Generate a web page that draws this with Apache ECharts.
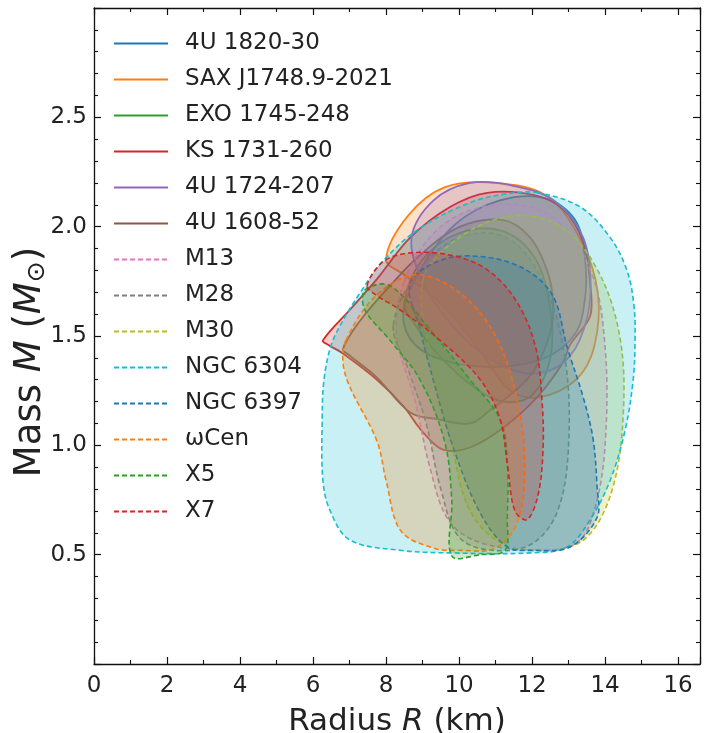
<!DOCTYPE html>
<html><head><meta charset="utf-8">
<script src="https://cdn.jsdelivr.net/npm/echarts@6/dist/echarts.min.js"></script>
<style>html,body{margin:0;padding:0;background:#fff}#c{width:709px;height:733px}</style>
</head><body><div id="c"></div>
<script>
// Legend names, colours, line styles
const names = ['4U 1820-30','SAX J1748.9-2021','EXO 1745-248','KS 1731-260','4U 1724-207','4U 1608-52',
  'M13','M28','M30','NGC 6304','NGC 6397','\u03c9Cen','X5','X7'];
const colors = ['#1f77b4','#ff7f0e','#2ca02c','#d62728','#9467bd','#8c564b',
  '#e377c2','#7f7f7f','#bcbd22','#17becf','#1f77b4','#ff7f0e','#2ca02c','#d62728'];
const dashed = [false,false,false,false,false,false,true,true,true,true,true,true,true,true];

// Contours: [Radius km, Mass Msun]
const c4U1820 = [[8.47,1.60],[8.93,1.80],[9.89,2.01],[11.12,2.12],[12.36,2.13],[13.18,2.03],[13.45,1.85],[13.45,1.67],[13.18,1.51],[12.36,1.40],[11.12,1.36],[9.75,1.38],[8.79,1.46]];
const cSAX = [[8.0,1.85],[8.6,2.05],[9.6,2.18],[11.0,2.20],[12.4,2.14],[13.3,1.95],[13.8,1.70],[13.7,1.45],[13.2,1.30],[12.2,1.22],[11.4,1.25],[10.5,1.45],[9.5,1.65],[8.5,1.78]];
const cEXO = [[8.5,1.65],[9.0,1.85],[10.0,1.97],[11.2,1.98],[12.1,1.85],[12.5,1.62],[12.5,1.40],[12.0,1.23],[11.2,1.20],[10.3,1.28],[9.4,1.42],[8.8,1.55]];
const cKS = [[6.27,1.48],[7.01,1.62],[7.75,1.76],[8.66,1.95],[9.75,2.09],[10.77,2.155],[12.03,2.145],[12.85,2.08],[13.40,1.93],[13.59,1.74],[13.59,1.59],[13.04,1.46],[12.85,1.38],[12.14,1.22],[11.21,1.08],[10.30,0.99],[9.56,0.98],[9.01,1.06],[8.47,1.18],[7.75,1.30],[6.82,1.42],[6.41,1.46]];
const c4U1724 = [[8.7,1.95],[9.3,2.12],[10.3,2.20],[11.4,2.19],[12.6,2.12],[13.4,1.95],[13.6,1.70],[13.3,1.48],[12.7,1.36],[11.8,1.33],[10.8,1.40],[9.8,1.55],[9.0,1.75]];
const c4U1608 = [[6.82,1.44],[7.29,1.57],[8.11,1.73],[8.93,1.87],[10.03,2.00],[11.21,2.03],[11.95,1.95],[12.41,1.80],[12.58,1.65],[12.49,1.51],[12.08,1.35],[11.67,1.27],[10.85,1.16],[10.30,1.10],[9.40,1.12],[8.66,1.15],[7.75,1.31],[7.01,1.41]];
const cM13 = [[8.5,1.75],[9.5,2.00],[11.0,2.10],[12.5,2.05],[13.6,1.80],[14.0,1.45],[14.0,1.00],[13.7,0.70],[13.2,0.55],[12.0,0.52],[10.5,0.56],[9.7,0.66],[9.2,0.90],[8.8,1.20],[8.3,1.50]];
const cM28 = [[8.2,1.55],[8.9,1.80],[10.0,1.95],[11.3,1.95],[12.3,1.75],[12.9,1.40],[13.0,1.00],[12.7,0.70],[12.0,0.55],[10.9,0.52],[10.0,0.58],[9.5,0.80],[9.1,1.10],[8.6,1.35]];
const cM30 = [[9.0,1.75],[10.0,1.95],[11.5,2.05],[12.8,2.00],[13.8,1.80],[14.4,1.50],[14.5,1.15],[14.2,0.80],[13.5,0.58],[12.5,0.52],[11.2,0.55],[10.3,0.70],[9.8,1.00],[9.3,1.35]];
const cNGC6304 = [[12.14,2.155],[13.32,2.09],[14.14,1.95],[14.6,1.80],[14.79,1.64],[14.82,1.48],[14.77,1.30],[14.55,1.07],[14.14,0.84],[13.59,0.66],[12.96,0.535],[11.95,0.508],[9.75,0.508],[8.38,0.52],[7.01,0.567],[6.47,0.70],[6.27,0.84],[6.25,1.116],[6.3,1.30],[6.5,1.46],[6.85,1.58],[7.3,1.70],[7.9,1.84],[8.9,1.99],[10.3,2.11],[11.3,2.15]];
const cNGC6397 = [[8.66,1.74],[9.56,1.85],[10.77,1.86],[11.86,1.80],[12.58,1.68],[12.96,1.45],[13.40,1.22],[13.67,1.03],[13.78,0.81],[13.78,0.67],[13.04,0.535],[12.03,0.52],[11.32,0.535],[10.58,0.69],[9.84,0.99],[9.29,1.30],[8.93,1.53]];
const cOmegaCen = [[6.9,1.48],[7.7,1.68],[8.8,1.78],[10.0,1.70],[11.0,1.50],[11.6,1.20],[11.8,0.90],[11.6,0.65],[11.0,0.53],[10.0,0.52],[9.3,0.53],[8.4,0.61],[8.0,0.84],[7.75,1.02],[7.0,1.27],[6.82,1.38]];
const cX5 = [[7.42,1.71],[8.11,1.73],[9.2,1.53],[10.3,1.30],[11.12,1.12],[11.32,0.93],[11.32,0.66],[11.26,0.52],[10.58,0.50],[9.8,0.494],[9.8,0.75],[9.6,1.02],[8.93,1.30],[8.11,1.48],[7.42,1.62]];
const cX7 = [[7.48,1.73],[7.92,1.84],[8.66,1.88],[9.75,1.87],[10.71,1.81],[11.53,1.67],[12.08,1.46],[12.27,1.21],[12.3,0.98],[12.16,0.77],[11.86,0.66],[11.53,0.70],[11.34,0.89],[11.12,1.12],[10.58,1.30],[9.48,1.48],[8.38,1.62],[7.7,1.69]];
const contours = [c4U1820,cSAX,cEXO,cKS,c4U1724,c4U1608,cM13,cM28,cM30,cNGC6304,cNGC6397,cOmegaCen,cX5,cX7];

// Axis ranges and ticks
const xMin = 0, xMax = 16.6, xStep = 2;
const yMin = 0, yMax = 3.0, yStep = 0.5;

function rgba(hex, a) {
  const n = parseInt(hex.slice(1), 16);
  return 'rgba(' + ((n >> 16) & 255) + ',' + ((n >> 8) & 255) + ',' + (n & 255) + ',' + a + ')';
}

const FONT = 'DejaVu Sans';
const series = [];
contours.forEach(function (pts, i) {
  series.push({
    type: 'custom', name: names[i] + '_fill', xAxisIndex: 0, yAxisIndex: 0,
    data: pts, encode: {x: 0, y: 1}, silent: true, z: 2 + i,
    renderItem: function (params, api) {
      if (params.dataIndex !== 0) return null;
      const p = pts.map(function (d) { return api.coord(d); });
      return {
        type: 'polygon', shape: {points: p, smooth: 0.35},
        style: {fill: rgba(colors[i], 0.23), stroke: colors[i], lineWidth: dashed[i] ? 1.6 : 1.8,
          lineDash: dashed[i] ? [5, 3] : null}
      };
    }
  });
});
names.forEach(function (n, i) {
  series.push({
    type: 'line', name: n, data: [], symbol: 'none', symbolSize: 0, xAxisIndex: 0, yAxisIndex: 0,
    lineStyle: {color: colors[i], width: 1.8, type: dashed[i] ? [5, 3] : 'solid'},
    itemStyle: {color: colors[i], opacity: 0}
  });
});

function axisBase() {
  return {
    axisLine: {show: true, onZero: false, lineStyle: {color: '#111', width: 1.3}},
    axisTick: {show: true, inside: true, length: 7, lineStyle: {color: '#111', width: 1.2}},
    splitLine: {show: false}
  };
}

const option = {
  animation: false,
  backgroundColor: '#fff',
  grid: {left: 94, right: 9, top: 8, bottom: 69, containLabel: false, outerBoundsMode: 'none'},
  legend: {
    orient: 'vertical', left: 108, top: 27, data: names,
    itemWidth: 54, itemHeight: 14, itemGap: 13,
    itemStyle: {opacity: 0},
    textStyle: {fontFamily: FONT, fontSize: 23, lineHeight: 23, color: '#222', padding: [0, 0, 0, 12]}
  },
  xAxis: [
    Object.assign(axisBase(), {
      type: 'value', min: xMin, max: xMax, interval: xStep, position: 'bottom',
      minorTick: {show: true, splitNumber: 2, length: 4, lineStyle: {color: '#111', width: 1.1}},
      axisLabel: {fontFamily: FONT, fontSize: 23, color: '#222', margin: 11,
        formatter: function (v) { return (v % 2 === 0) ? String(v) : ''; }},
      name: 'Radius {it|R} (km)', nameLocation: 'middle', nameGap: 42, nameMoveOverlap: false,
      nameTextStyle: {fontFamily: FONT, fontSize: 31, color: '#222',
        rich: {it: {fontFamily: FONT, fontSize: 31, fontStyle: 'italic', color: '#222'}}}
    }),
    Object.assign(axisBase(), {
      type: 'value', min: xMin, max: xMax, interval: xStep, position: 'top',
      minorTick: {show: true, splitNumber: 2, length: 4, lineStyle: {color: '#111', width: 1.1}},
      axisLabel: {show: false}
    })
  ],
  yAxis: [
    Object.assign(axisBase(), {
      type: 'value', min: yMin, max: yMax, interval: yStep, position: 'left',
      minorTick: {show: true, splitNumber: 5, length: 4, lineStyle: {color: '#111', width: 1.1}},
      axisLabel: {fontFamily: FONT, fontSize: 23, color: '#222', margin: 7,
        formatter: function (v) { return (v > 0 && v < 3) ? v.toFixed(1) : ''; }},
      name: 'Mass {it|M} ({it|M}{sub|\u2299})', nameLocation: 'middle', nameGap: 44, nameRotate: 90,
      nameMoveOverlap: false,
      nameTextStyle: {fontFamily: FONT, fontSize: 37, color: '#222', padding: [0, 52, 0, 0],
        rich: {it: {fontFamily: FONT, fontSize: 37, fontStyle: 'italic', color: '#222'},
               sub: {fontFamily: FONT, fontSize: 25, color: '#222', padding: [15, 0, 0, 0]}}}
    }),
    Object.assign(axisBase(), {
      type: 'value', min: yMin, max: yMax, interval: yStep, position: 'right',
      minorTick: {show: true, splitNumber: 5, length: 4, lineStyle: {color: '#111', width: 1.1}},
      axisLabel: {show: false}
    })
  ],
  series: series
};

const chart = echarts.init(document.getElementById('c'), null, {renderer: 'canvas'});
chart.setOption(option);
</script>
</body></html>
